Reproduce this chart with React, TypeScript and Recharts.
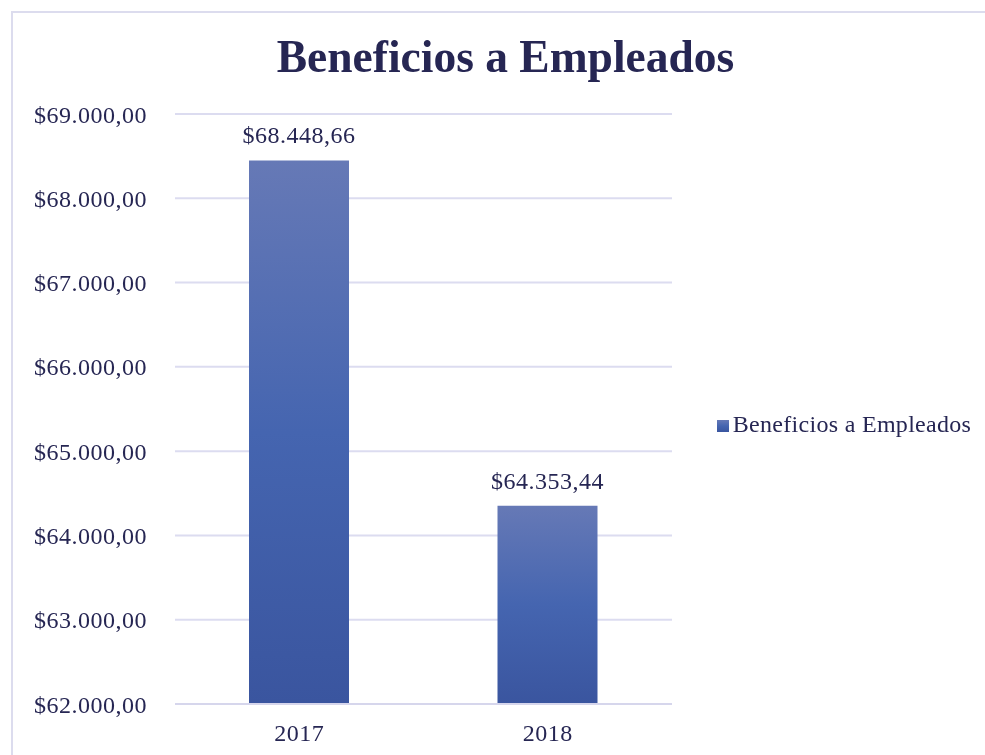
import { Bar, BarChart, CartesianGrid, LabelList, Legend, XAxis, YAxis } from 'recharts'

const years = ['2017', '2018']
const beneficios = [68448.66, 64353.44]
const yTicks = [62000, 63000, 64000, 65000, 66000, 67000, 68000, 69000]
const seriesName = 'Beneficios a Empleados'

const data = years.map((year, i) => ({ year, value: beneficios[i] }))

const ink = '#262653'
const font = '"Liberation Serif", "DejaVu Serif", serif'

// es-style money: $68.448,66
function money(v: number) {
  const [int, dec] = v.toFixed(2).split('.')
  return '$' + int.replace(/\B(?=(\d{3})+(?!\d))/g, '.') + ',' + dec
}

export default function App() {
  return (
    <div style={{ position: 'relative', width: 969, height: 739, overflow: 'hidden', fontFamily: font }}>
      {/* frame: only its top and left edges are visible */}
      <div
        style={{
          position: 'fixed',
          left: 11,
          top: 11,
          width: 2000,
          height: 2000,
          borderLeft: '2px solid #dcdcee',
          borderTop: '2px solid #dcdcee',
        }}
      />
      <div
        style={{
          position: 'absolute',
          left: 0,
          top: 26,
          width: 995,
          textAlign: 'center',
          fontSize: 45.5,
          lineHeight: '45px',
          fontWeight: 'bold',
          color: ink,
        }}
      >
        Beneficios a Empleados
      </div>
      <div style={{ position: 'absolute', left: 0, top: 0 }}>
        <BarChart
          width={969}
          height={739}
          data={data}
          margin={{ top: 106, right: 305, left: 0, bottom: 0 }}
        >
          <defs>
            <linearGradient id="barFill" x1="0" y1="0" x2="0" y2="1">
              <stop offset="0%" stopColor="#6679b6" />
              <stop offset="50%" stopColor="#4565b0" />
              <stop offset="100%" stopColor="#3a559f" />
            </linearGradient>
          </defs>
          <CartesianGrid vertical={false} stroke="#dcdcf0" strokeWidth={2} />
          <XAxis
            dataKey="year"
            height={43}
            tickLine={false}
            axisLine={{ stroke: '#d6d6ec', strokeWidth: 2 }}
            tickMargin={14}
            tick={{ fill: ink, fontSize: 24, fontFamily: font, letterSpacing: 0.5 }}
          />
          <YAxis
            width={167}
            domain={[62000, 69000]}
            ticks={yTicks}
            tickFormatter={money}
            tickLine={false}
            axisLine={false}
            tickMargin={22}
            tick={{ fill: ink, fontSize: 24, fontFamily: font, letterSpacing: 0.5 }}
          />
          <Legend
            layout="horizontal"
            align="center"
            verticalAlign="middle"
            iconType="square"
            iconSize={12}
            wrapperStyle={{ left: 701, top: 403, width: 280, fontSize: 24, fontFamily: font }}
            formatter={(v) => <span style={{ color: ink, letterSpacing: 0.3 }}>{v}</span>}
          />
          <Bar dataKey="value" name={seriesName} fill="url(#barFill)" barSize={100} isAnimationActive={false}>
            <LabelList
              dataKey="value"
              position="top"
              offset={17}
              formatter={(v: any) => money(Number(v))}
              style={{ fill: ink, fontSize: 24, fontFamily: font, letterSpacing: 0.5 }}
            />
          </Bar>
        </BarChart>
      </div>
    </div>
  )
}
